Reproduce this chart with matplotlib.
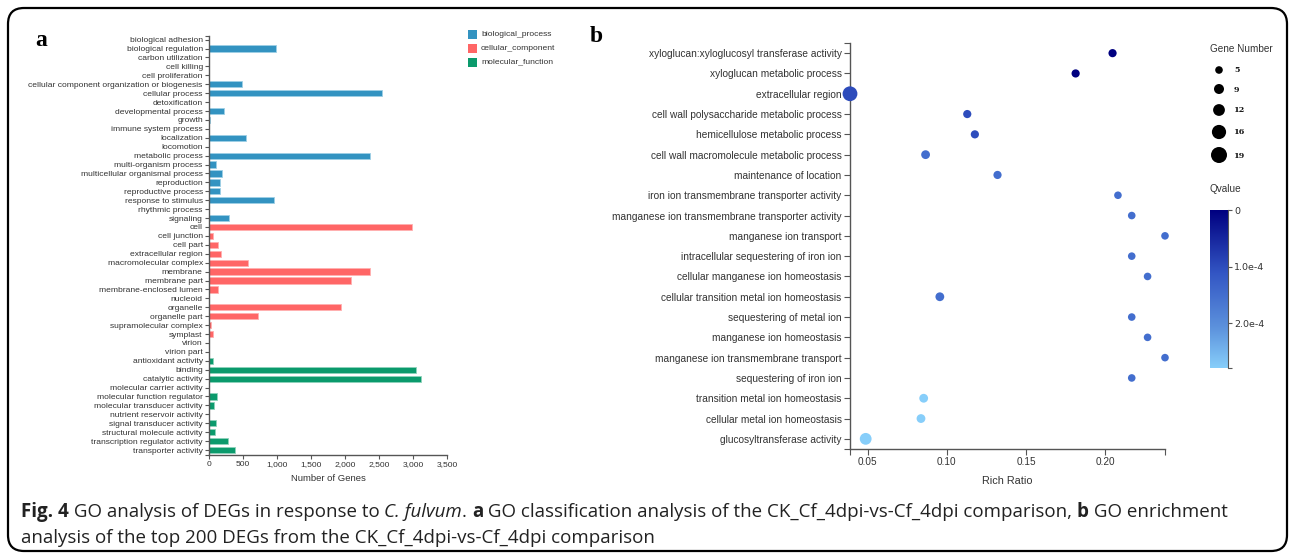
import matplotlib
matplotlib.use("Agg")
import matplotlib.pyplot as plt
from matplotlib.patches import FancyBboxPatch, Rectangle
from matplotlib.colors import LinearSegmentedColormap, Normalize
import numpy as np

# ---- panel a data (GO classification) ----
bp_terms = ["biological adhesion", "biological regulation", "carbon utilization", "cell killing",
            "cell proliferation", "cellular component organization or biogenesis", "cellular process",
            "detoxification", "developmental process", "growth", "immune system process", "localization",
            "locomotion", "metabolic process", "multi-organism process", "multicellular organismal process",
            "reproduction", "reproductive process", "response to stimulus", "rhythmic process", "signaling"]
bp_counts = [3, 990, 1, 1, 1, 480, 2543, 2, 220, 15, 5, 549, 1, 2372, 108, 196, 167, 167, 955, 2, 289]

cc_terms = ["cell", "cell junction", "cell part", "extracellular region", "macromolecular complex",
            "membrane", "membrane part", "membrane-enclosed lumen", "nucleoid", "organelle",
            "organelle part", "supramolecular complex", "symplast", "virion", "virion part"]
cc_counts = [2984, 64, 137, 181, 578, 2362, 2087, 132, 1, 1940, 725, 29, 64, 1, 1]

mf_terms = ["antioxidant activity", "binding", "catalytic activity", "molecular carrier activity",
            "molecular function regulator", "molecular transducer activity", "nutrient reservoir activity",
            "signal transducer activity", "structural molecule activity",
            "transcription regulator activity", "transporter activity"]
mf_counts = [54, 3038, 3112, 1, 113, 69, 2, 103, 88, 279, 387]

groups = ["biological_process", "cellular_component", "molecular_function"]
xticks_a = [0, 500, 1000, 1500, 2000, 2500, 3000, 3500]

# ---- panel b data (GO enrichment) ----
terms_b = ["xyloglucan:xyloglucosyl transferase activity", "xyloglucan metabolic process",
           "extracellular region", "cell wall polysaccharide metabolic process",
           "hemicellulose metabolic process", "cell wall macromolecule metabolic process",
           "maintenance of location", "iron ion transmembrane transporter activity",
           "manganese ion transmembrane transporter activity", "manganese ion transport",
           "intracellular sequestering of iron ion", "cellular manganese ion homeostasis",
           "cellular transition metal ion homeostasis", "sequestering of metal ion",
           "manganese ion homeostasis", "manganese ion transmembrane transport",
           "sequestering of iron ion", "transition metal ion homeostasis",
           "cellular metal ion homeostasis", "glucosyltransferase activity"]
rich_ratio = [0.2046, 0.1813, 0.0389, 0.1129, 0.1177, 0.0866, 0.1320, 0.2080, 0.2167, 0.2377,
              0.2167, 0.2267, 0.0956, 0.2167, 0.2267, 0.2377, 0.2167, 0.0854, 0.0837, 0.0488]
gene_number = [6, 6, 17, 6, 6, 7, 6, 5, 5, 5, 5, 5, 7, 5, 5, 5, 5, 7, 7, 12]
qvalue = [1e-6, 2e-6, 0.98e-4, 1.0e-4, 1.0e-4, 1.5e-4, 1.5e-4, 1.5e-4, 1.5e-4, 1.5e-4,
          1.5e-4, 1.5e-4, 1.5e-4, 1.5e-4, 1.5e-4, 1.5e-4, 1.5e-4, 2.79e-4, 2.79e-4, 2.79e-4]
legend_genes = [5, 9, 12, 16, 19]
q_ticks = [0, 1e-4, 2e-4]
q_ticklabels = ["0", "1.0e-4", "2.0e-4"]

W, H = 1295, 557
fig = plt.figure(figsize=(W / 100, H / 100), dpi=100)
SANS = "Liberation Sans"
TXT = "#333333"
AXC = "#555555"


def box(x0, y0, x1, y1):
    # pixel box (top-left origin) -> figure rect
    return [x0 / W, 1 - y1 / H, (x1 - x0) / W, (y1 - y0) / H]


def dot_size(n):
    r = 2.3 + 0.3 * np.asarray(n, dtype=float)  # radius in px
    return (2 * r * 0.72) ** 2


# background layer in pixel coords: frame, letters, caption, size legend
bg = fig.add_axes([0, 0, 1, 1])
bg.set_xlim(0, W)
bg.set_ylim(H, 0)
bg.axis("off")
bg.add_patch(FancyBboxPatch((8, 8), 1279, 543, boxstyle="round,pad=0,rounding_size=16",
                            fc="none", ec="black", lw=1.6))
bg.text(35, 40, "a", family="Liberation Serif", weight="bold", fontsize=17, va="center")
bg.text(590, 36, "b", family="Liberation Serif", weight="bold", fontsize=17, va="center")

# ---- panel a ----
terms_a = bp_terms + cc_terms + mf_terms
counts_a = bp_counts + cc_counts + mf_counts
face = {"biological_process": "#3393c1", "cellular_component": "#ff6666", "molecular_function": "#0b9a6c"}
edge = {"biological_process": "#9fd0e6", "cellular_component": "#ffb0b0", "molecular_function": "#8fd3bb"}
grp = [groups[0]] * len(bp_terms) + [groups[1]] * len(cc_terms) + [groups[2]] * len(mf_terms)

ax = fig.add_axes(box(209, 36, 447, 455))
ya = np.arange(len(terms_a))
ax.barh(ya, counts_a, height=0.7, color=[face[g] for g in grp],
        edgecolor=[edge[g] for g in grp], linewidth=0.6)
ax.set_xlim(0, 3500)
ax.set_ylim(len(terms_a) - 1 + 0.56, -0.41)
ax.set_yticks(ya)
ax.set_yticklabels(terms_a, fontsize=6.1, family=SANS, color=TXT)
ax.set_yticks([len(terms_a) - 1 + 0.56, -0.41], minor=True)
ax.set_xticks(xticks_a)
ax.set_xticklabels([f"{v:,}" for v in xticks_a], fontsize=6.1, family=SANS, color=TXT)
ax.set_xlabel("Number of Genes", fontsize=6.8, family=SANS, color=TXT, labelpad=4)
for s in ["top", "right"]:
    ax.spines[s].set_visible(False)
for s in ["left", "bottom"]:
    ax.spines[s].set_color(AXC)
    ax.spines[s].set_linewidth(1.0)
ax.tick_params(axis="both", which="both", length=3, width=0.8, color=AXC, pad=1.5)

for i, g in enumerate(groups):
    yy = 34 + i * 14
    bg.add_patch(Rectangle((468, yy - 4.5), 9, 9, fc=face[g], ec="none"))
    bg.text(481, yy, g, fontsize=6.1, family=SANS, color=TXT, va="center")

# ---- panel b ----
cmap = LinearSegmentedColormap.from_list(
    "q", [(0, "#000080"), (0.4, "#3356c4"), (0.75, "#5d93dd"), (1, "#87cefa")])
qmax = max(qvalue)
norm = Normalize(0, qmax)

axb = fig.add_axes(box(850, 43, 1165, 449))
yb = np.arange(len(terms_b))
axb.scatter(rich_ratio, yb, s=dot_size(gene_number), c=qvalue, cmap=cmap, norm=norm,
            linewidths=0, clip_on=False, zorder=3)
xmin, xmax = min(rich_ratio), max(rich_ratio)
axb.set_xlim(xmin, xmax)
axb.set_ylim(len(terms_b) - 0.5, -0.5)
axb.set_yticks(yb)
axb.set_yticklabels(terms_b, fontsize=7.3, family=SANS, color=TXT)
axb.set_yticks([len(terms_b) - 0.5, -0.5], minor=True)
axb.set_xticks([0.05, 0.10, 0.15, 0.20])
axb.set_xticklabels(["0.05", "0.10", "0.15", "0.20"], fontsize=7.2, family=SANS, color=TXT)
axb.set_xticks([xmin, xmax], minor=True)
axb.set_xlabel("Rich Ratio", fontsize=7.8, family=SANS, color=TXT, labelpad=6)
for s in ["top", "right"]:
    axb.spines[s].set_visible(False)
for s in ["left", "bottom"]:
    axb.spines[s].set_color(AXC)
    axb.spines[s].set_linewidth(1.0)
axb.tick_params(axis="both", which="both", length=4, width=0.8, color=AXC, pad=2)

# size legend
bg.text(1210, 49, "Gene Number", fontsize=7.2, family=SANS, color=TXT, va="center")
leg_y = [70, 89, 110, 132, 155]
bg.scatter([1219] * len(legend_genes), leg_y, s=dot_size(legend_genes), c="black", linewidths=0)
for n, yy in zip(legend_genes, leg_y):
    bg.text(1234, yy + 0.5, str(n), fontsize=5.8, family="DejaVu Serif", weight="bold",
            color="#111111", va="center")

# qvalue colour bar
bg.text(1210, 189, "Qvalue", fontsize=7.2, family=SANS, color=TXT, va="center")
cax = fig.add_axes(box(1210, 210, 1228, 368))
grad = np.linspace(0, qmax, 256)[:, None]
cax.imshow(grad, aspect="auto", cmap=cmap, norm=norm, extent=[0, 1, qmax, 0])
cax.set_xlim(0, 1)
cax.set_ylim(qmax, 0)
cax.set_xticks([])
cax.yaxis.tick_right()
cax.set_yticks(q_ticks)
cax.set_yticklabels(q_ticklabels, fontsize=6.8, family="DejaVu Sans", color=TXT)
cax.set_yticks([qmax], minor=True)
for s in ["top", "left", "bottom"]:
    cax.spines[s].set_visible(False)
cax.spines["right"].set_color(AXC)
cax.tick_params(axis="y", which="both", length=3, width=0.8, color=AXC, pad=1.5)

# ---- caption with mixed styles ----
renderer = fig.canvas.get_renderer()
CAP = dict(family="Open Sans", fontsize=13.5, color="#222222", va="baseline")


def caption_line(x, y, pieces):
    for txt, style in pieces:
        kw = dict(CAP)
        if style == "b":
            kw["weight"] = "bold"
        elif style == "i":
            kw["style"] = "italic"
        t = bg.text(x, y, txt, **kw)
        x += t.get_window_extent(renderer).width


caption_line(21, 517, [("Fig. 4", "b"), (" GO analysis of DEGs in response to ", "n"), ("C. fulvum", "i"),
                       (". ", "n"), ("a", "b"),
                       (" GO classification analysis of the CK_Cf_4dpi-vs-Cf_4dpi comparison, ", "n"),
                       ("b", "b"), (" GO enrichment", "n")])
caption_line(21, 543, [("analysis of the top 200 DEGs from the CK_Cf_4dpi-vs-Cf_4dpi comparison", "n")])

fig.savefig("out.png", dpi=100)
